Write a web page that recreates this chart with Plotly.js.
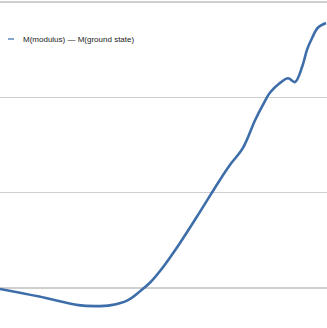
<!DOCTYPE html>
<html>
<head>
<meta charset="utf-8">
<script src="https://cdn.plot.ly/plotly-3.0.1.min.js"></script>
<style>html,body{margin:0;padding:0;background:#fff;}#chart{width:327px;height:328px;}</style>
</head>
<body>
<div id="chart"></div>
<script>
// Data (arbitrary units)
const xValues = [0.0, 1.2, 2.4, 2.9, 3.4, 3.9, 4.3, 4.6, 4.9, 5.5, 6.1, 6.7, 7.03, 7.43, 7.80, 8.04, 8.26, 8.56, 8.81, 9.02, 9.24, 9.39, 9.54, 9.72, 9.97];
const yValues = [-0.01, -0.09, -0.18, -0.19, -0.18, -0.13, -0.03, 0.06, 0.18, 0.47, 0.79, 1.12, 1.29, 1.47, 1.76, 1.92, 2.05, 2.15, 2.20, 2.16, 2.32, 2.50, 2.62, 2.73, 2.78];
const gridValues = [0, 1, 2, 3];
const seriesName = "M(modulus) — M(ground state)";

const W = 327, H = 328;
const trace = {
  x: xValues, y: yValues, type: 'scatter', mode: 'lines',
  line: {color: '#3d6ea9', width: 2.6, shape: 'spline', smoothing: 1.0},
  name: seriesName, showlegend: false, hoverinfo: 'skip'
};
const layout = {
  width: W, height: H,
  margin: {l: 0, r: 0, t: 0, b: 0},
  paper_bgcolor: '#ffffff', plot_bgcolor: '#ffffff',
  showlegend: false,
  xaxis: {range: [0, 10], showgrid: false, zeroline: false, showticklabels: false, ticks: '', showline: false},
  yaxis: {range: [-0.42, 3.021], tickmode: 'array', tickvals: gridValues, showticklabels: false, ticks: '',
          showgrid: true, gridcolor: '#cfcfcf', gridwidth: 1.6, zeroline: false, showline: false},
  shapes: [{type: 'line', xref: 'paper', yref: 'paper', x0: 8 / W, x1: 14 / W, y0: 1 - 39 / H, y1: 1 - 39 / H,
            line: {color: '#86a6cc', width: 2}}],
  annotations: [{xref: 'paper', yref: 'paper', x: 21 / W, y: 1 - 39.5 / H, xanchor: 'left', yanchor: 'middle',
                 text: seriesName, showarrow: false, font: {family: 'Liberation Sans, Arial, sans-serif', size: 8, color: '#222'}}]
};
Plotly.newPlot('chart', [trace], layout, {displayModeBar: false, staticPlot: true});
</script>
</body>
</html>
